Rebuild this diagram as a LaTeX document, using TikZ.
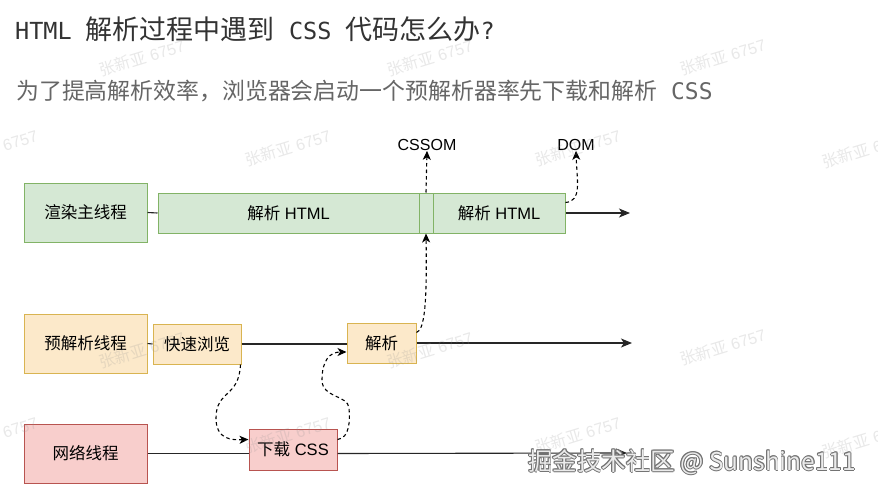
\documentclass[tikz,border=0pt]{standalone}
\usepackage{fontspec}
\setmainfont{Liberation Sans}
\setmonofont{DejaVu Sans Mono}
\newfontfamily\cjk{Noto Sans CJK SC}
\usetikzlibrary{arrows.meta}
\definecolor{gfill}{HTML}{D5E8D4}
\definecolor{gline}{HTML}{82B366}
\definecolor{yfill}{HTML}{FCE9CA}
\definecolor{yline}{HTML}{D9B451}
\definecolor{rfill}{HTML}{F8CECC}
\definecolor{rline}{HTML}{B85450}
\definecolor{titlec}{HTML}{333333}
\definecolor{subc}{HTML}{666666}
\definecolor{wmc}{HTML}{909090}
\newcommand\boxfont{\fontsize{16.5}{19}\selectfont}
\tikzset{
  box/.style={draw, line width=1pt, inner sep=0pt, align=center, font=\boxfont},
  gbox/.style={box, fill=gfill, draw=gline},
  ybox/.style={box, fill=yfill, draw=yline},
  rbox/.style={box, fill=rfill, draw=rline},
  thread/.style={line width=1.1pt, draw=black!85},
  mainarrow/.style={thread, -{Stealth[length=11pt,width=9pt,inset=3pt]}},
  dasharrow/.style={line width=1.1pt, dash pattern=on 3.5pt off 3pt, -{Stealth[length=9pt,width=8pt,inset=2.5pt]}},
  lbl/.style={inner sep=0pt, font=\fontsize{16}{18}\selectfont},
  wm/.style={inner sep=0pt, text=wmc, text opacity=0.2, rotate=17, font=\fontsize{16}{18}\selectfont},
}
\begin{document}
\begin{tikzpicture}[x=1pt,y=-1pt]
\useasboundingbox (0,0) rectangle (878,492);
\fill[white] (0,0) rectangle (878,492);
% title and subtitle
\node[anchor=west, inner sep=0pt, text=titlec, font=\ttfamily\fontsize{23.5}{28}\selectfont] (title) at (15,29)
  {HTML {\cjk\fontsize{27}{28}\selectfont 解析过程中遇到} CSS {\cjk\fontsize{27}{28}\selectfont 代码怎么办}?};
\node[anchor=west, inner sep=0pt, text=subc, font=\ttfamily\fontsize{22.9}{26}\selectfont] (subtitle) at (16,91)
  {{\cjk 为了提高解析效率，浏览器会启动一个预解析器率先下载和解析} CSS};
% main thread
\node[gbox, minimum width=123pt, minimum height=59pt] (m0) at (85.5,212.5) {{\cjk 渲染主线程}};
\node[gbox, minimum width=261pt, minimum height=40pt] (m1) at (288.5,213) {{\cjk 解析} HTML};
\node[gbox, minimum width=14pt, minimum height=40pt] (m2) at (426,213) {};
\node[gbox, minimum width=132pt, minimum height=40pt] (m3) at (499,213) {{\cjk 解析} HTML};
\node[lbl] (cssom) at (427,145) {CSSOM};
\node[lbl] (dom) at (576,145) {DOM};
\coordinate (mend) at (630,213);
% preparse thread
\node[ybox, minimum width=123pt, minimum height=59pt] (p0) at (85.5,343.5) {{\cjk 预解析线程}};
\node[ybox, minimum width=88pt, minimum height=40pt] (p1) at (197,344) {{\cjk 快速浏览}};
\node[ybox, minimum width=69pt, minimum height=40pt] (p2) at (381.5,343) {{\cjk 解析}};
\coordinate (pend) at (632,343);
% network thread
\node[rbox, minimum width=123pt, minimum height=59pt] (n0) at (85.5,453.5) {{\cjk 网络线程}};
\node[rbox, minimum width=88pt, minimum height=41pt] (n1) at (293,449.5) {{\cjk 下载} CSS};
\coordinate (nend) at (627,453);
% thread lines
\draw[thread] (m0.east) -- (m1.west);
\draw[mainarrow] (m3.east) -- (mend);
\draw[thread] (p0.east) -- (p1.west);
\draw[thread] (p1.east) -- (p2.west |- p1.east);
\draw[mainarrow] (p2.east) -- (pend);
\draw[thread] (n0.east) -- (n0.east -| n1.west);
\draw[mainarrow] (n0.east -| n1.east) -- (nend);
% dashed connectors
\draw[dasharrow] (m2.north) -- (cssom.south);
\draw[dasharrow] ([yshift=-10pt]m3.north east) .. controls (582,201) and (577,182) .. (dom.south);
\draw[dasharrow] ([yshift=-10pt]p2.north east) .. controls (425,330) and (427,300) .. (m2.south);
\draw[dasharrow] ([xshift=-1pt]p1.south east) .. controls (239,398) and (216,390) .. (216,418) .. controls (216,440) and (232,440) .. ([yshift=10pt]n1.west);
\draw[dasharrow] ([yshift=10pt]n1.east) .. controls (350,438) and (350,420) .. (349,408) .. controls (348,395) and (322,398) .. (322,380) .. controls (322,360) and (330,352) .. ([yshift=-9pt]p2.west);
% watermarks (on top, faint)
\foreach \wx/\wy [count=\i] in {142/58,430/58,723/57,-5/148,288/148,578/148,865/150,142/350,430/350,723/347,-5/435,288/435,578/435,865/440}{
  \node[wm] (wm\i) at (\wx,\wy) {{\cjk 张新亚} 6757};
}
% site watermark
\foreach \dx/\dy in {-0.8/0,0.8/0,0/-0.8,0/0.8,0.6/0.6,-0.6/-0.6,0.6/-0.6,-0.6/0.6}{
  \node[inner sep=0pt, text=black!55, font=\cjk\fontsize{24.5}{27}\selectfont] at (692+\dx,462+\dy) {掘金技术社区 @ Sunshine111};
}
\node[inner sep=0pt, text=white!92!black, font=\cjk\fontsize{24.5}{27}\selectfont] (site) at (692,462) {掘金技术社区 @ Sunshine111};
\end{tikzpicture}
\end{document}
